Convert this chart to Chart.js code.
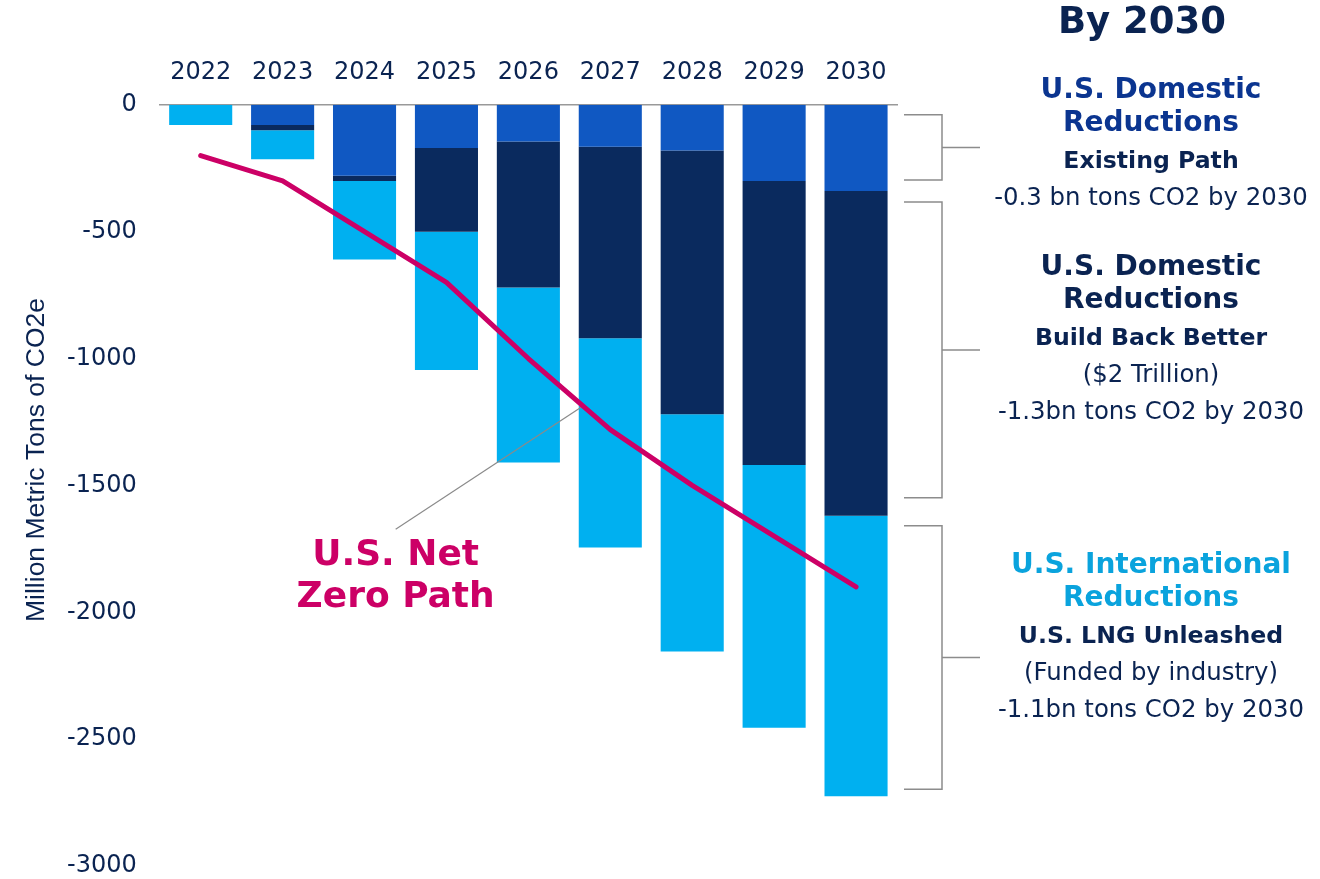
<!DOCTYPE html>
<html>
<head>
<meta charset="utf-8">
<script src="https://cdn.jsdelivr.net/npm/chart.js@4/dist/chart.umd.min.js"></script>
<style>
  html, body { margin: 0; padding: 0; background: #fff; }
  #wrap { width: 1320px; height: 879px; position: relative; }
</style>
</head>
<body>
<div id="wrap"><canvas id="chart"></canvas></div>
<script>
const years = ['2022', '2023', '2024', '2025', '2026', '2027', '2028', '2029', '2030'];
const existingPath = [0, -80, -280, -170, -145, -165, -180, -300, -340];
const buildBackBetter = [0, -20, -20, -330, -575, -755, -1040, -1120, -1280];
const lngUnleashed = [-80, -115, -310, -545, -690, -825, -935, -1035, -1105];
const netZeroPath = [-200, -300, -500, -700, -1000, -1280, -1500, -1700, -1900];
const yTicks = [0, -500, -1000, -1500, -2000, -2500, -3000];

const yTitle = 'Million Metric Tons of CO2e';
const sideTitle = 'By 2030';
const noteHeads = [['U.S. Domestic', 'Reductions'], ['U.S. Domestic', 'Reductions'], ['U.S. International', 'Reductions']];
const noteSubs = ['Existing Path', 'Build Back Better', 'U.S. LNG Unleashed'];
const noteDetails = [['-0.3 bn tons CO2 by 2030'], ['($2 Trillion)', '-1.3bn tons CO2 by 2030'], ['(Funded by industry)', '-1.1bn tons CO2 by 2030']];
const pathLabel = ['U.S. Net', 'Zero Path'];

const NAVY_TEXT = '#0A2351';
const MAGENTA = '#CC0066';
const FONT = '"DejaVu Sans", Verdana, sans-serif';

// leader line from the "U.S. Net Zero Path" label to the line, drawn before the line itself
function drawLeader(chart) {
    const {ctx, scales} = chart;
    const pts = chart.getDatasetMeta(3).data;
    const t = 0.667;
    const ex = pts[4].x + (pts[5].x - pts[4].x) * t;
    const ey = pts[4].y + (pts[5].y - pts[4].y) * t;
    const sx = scales.x.getPixelForValue(2.38);
    const sy = scales.y.getPixelForValue(-1775) - 26;
    ctx.save();
    ctx.strokeStyle = '#8a8a8a';
    ctx.lineWidth = 1.2;
    ctx.beginPath();
    ctx.moveTo(sx, sy);
    ctx.lineTo(ex, ey);
    ctx.stroke();
    ctx.restore();
}

const notesPlugin = {
    id: 'notes',
    beforeDatasetDraw(chart, args) {
        if (args.index === 3) drawLeader(chart);
    },
    afterDraw(chart) {
        const {ctx, chartArea, scales} = chart;
        ctx.save();
        ctx.textAlign = 'center';
        ctx.textBaseline = 'middle';

        // y axis title, sits a bit above the middle of the axis
        ctx.save();
        ctx.translate(37, 460);
        ctx.rotate(-Math.PI / 2);
        ctx.fillStyle = NAVY_TEXT;
        ctx.font = '26.5px "Liberation Sans", Arial, sans-serif';
        ctx.fillText(yTitle, 0, 0);
        ctx.restore();

        // net zero label
        ctx.fillStyle = MAGENTA;
        ctx.font = 'bold 36px ' + FONT;
        const lx = scales.x.getPixelForValue(2.38);
        const ly = scales.y.getPixelForValue(-1775);
        pathLabel.forEach((s, i) => ctx.fillText(s, lx, ly + i * 42));

        // side heading
        ctx.fillStyle = NAVY_TEXT;
        ctx.font = 'bold 37px ' + FONT;
        ctx.fillText(sideTitle, 1142, 23);

        // brackets against the 2030 bar segments
        const last = years.length - 1;
        const gaps = [[10, 11], [11, 18], [10, 7]];
        const x0 = chartArea.right + 7, x1 = chartArea.right + 45, x2 = chartArea.right + 83;
        ctx.strokeStyle = '#8c8c8c';
        ctx.lineWidth = 1.5;
        [0, 1, 2].forEach(i => {
            const bar = chart.getDatasetMeta(i).data[last];
            const top = Math.min(bar.y, bar.base) + gaps[i][0];
            const bot = Math.max(bar.y, bar.base) - gaps[i][1];
            const mid = (top + bot) / 2;
            ctx.beginPath();
            ctx.moveTo(x0, top); ctx.lineTo(x1, top); ctx.lineTo(x1, bot); ctx.lineTo(x0, bot);
            ctx.moveTo(x1, mid); ctx.lineTo(x2, mid);
            ctx.stroke();
        });

        // note texts
        const cx = 1151;
        const starts = [91, 268, 566];
        const headColors = ['#0B3590', NAVY_TEXT, '#0AA3DD'];
        noteHeads.forEach((head, i) => {
            let y = starts[i];
            ctx.fillStyle = headColors[i];
            ctx.font = 'bold 28px ' + FONT;
            head.forEach((s, k) => { ctx.fillText(s, cx, y); if (k < head.length - 1) y += 33; });
            y += 38;
            ctx.fillStyle = NAVY_TEXT;
            ctx.font = 'bold 23.6px ' + FONT;
            ctx.fillText(noteSubs[i], cx, y);
            ctx.font = '24.4px ' + FONT;
            noteDetails[i].forEach(s => { y += 37; ctx.fillText(s, cx, y); });
        });
        ctx.restore();
    }
};

const data = {
    labels: years,
    datasets: [{
        label: 'Existing Path',
        data: existingPath,
        backgroundColor: '#1058C2',
        stack: 'bars'
    }, {
        label: 'Build Back Better',
        data: buildBackBetter,
        backgroundColor: '#0A2A5E',
        stack: 'bars'
    }, {
        label: 'U.S. LNG Unleashed',
        data: lngUnleashed,
        backgroundColor: '#00B0F0',
        stack: 'bars'
    }, {
        type: 'line',
        label: 'U.S. Net Zero Path',
        data: netZeroPath,
        borderColor: MAGENTA,
        borderWidth: 5,
        pointRadius: 0,
        tension: 0,
        borderCapStyle: 'round',
        borderJoinStyle: 'round',
        stack: 'line',
        order: -1
    }]
};

const config = {
    type: 'bar',
    data,
    plugins: [notesPlugin],
    options: {
        animation: false,
        responsive: true,
        maintainAspectRatio: false,
        barPercentage: 0.77,
        categoryPercentage: 1,
        layout: {
            padding: {left: 44, right: 423, top: 40, bottom: 13}
        },
        scales: {
            x: {
                position: 'top',
                stacked: true,
                grid: {display: false, drawTicks: false},
                border: {display: true, color: '#999999', width: 1.5},
                ticks: {
                    color: NAVY_TEXT,
                    font: {family: FONT, size: 24},
                    padding: 18,
                    maxRotation: 0
                }
            },
            y: {
                stacked: true,
                min: Math.min(...yTicks),
                max: Math.max(...yTicks),
                grid: {display: false, drawTicks: false},
                border: {display: false},
                afterBuildTicks: (axis) => { axis.ticks = yTicks.map(v => ({value: v})); },
                afterFit: (axis) => { axis.paddingBottom = 0; },
                ticks: {
                    color: NAVY_TEXT,
                    font: {family: FONT, size: 24},
                    padding: 23,
                    callback: (v) => String(v)
                }
            }
        },
        plugins: {
            legend: {display: false},
            tooltip: {enabled: false},
            title: {display: false}
        }
    }
};

new Chart(document.getElementById('chart'), config);
</script>
</body>
</html>
